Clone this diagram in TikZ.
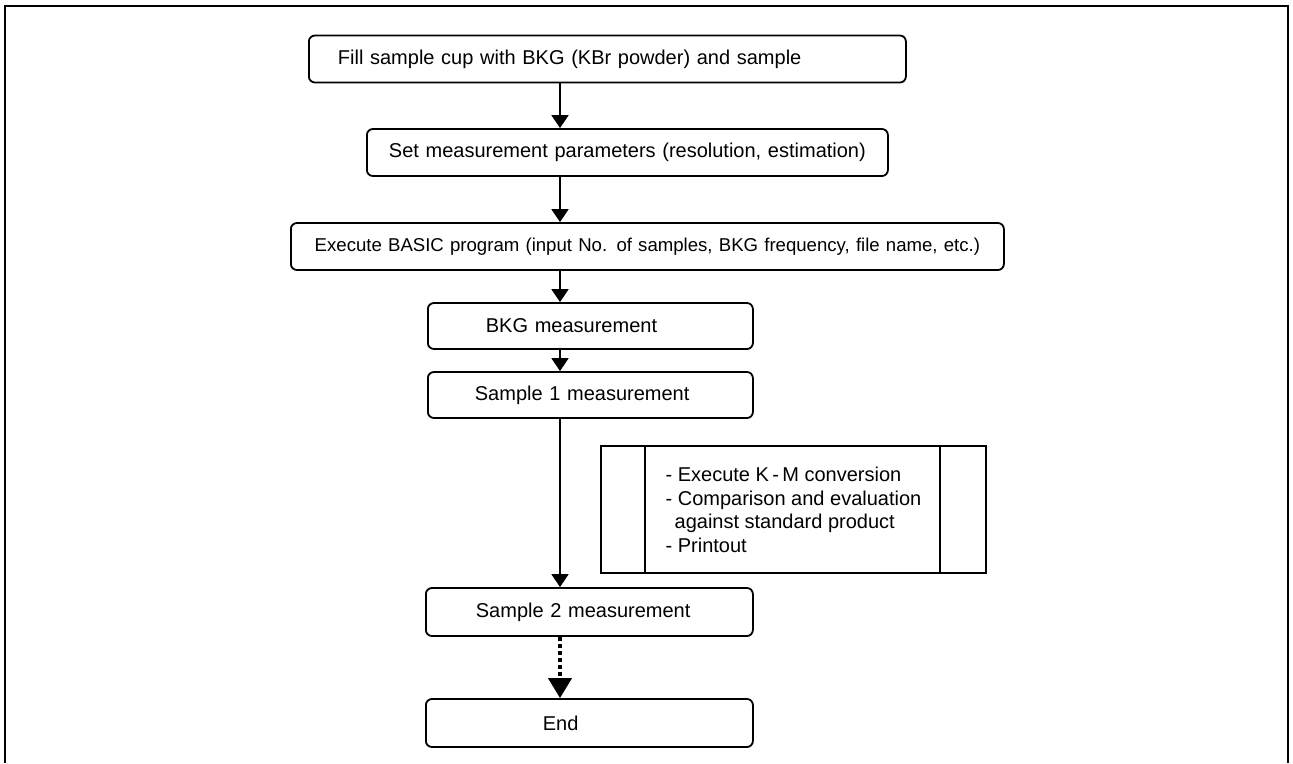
\documentclass[tikz,border=0pt]{standalone}
\usepackage{fontspec}
\setmainfont{Liberation Sans}
\usetikzlibrary{arrows.meta, calc, positioning}

\begin{document}
\begin{tikzpicture}[
  x=1pt, y=-1pt,
  box/.style={draw, line width=1.8pt, rounded corners=6pt, minimum height=47pt,
              anchor=west, align=left, font=\fontsize{20}{24}\selectfont},
  arr/.style={-{Triangle[width=17pt, length=13pt]}, line width=1.8pt},
  dotarr/.style={-{Triangle[width=23pt, length=20pt]}, line width=4pt,
                 dash pattern=on 4pt off 3pt}
]
  \useasboundingbox (0,0) rectangle (1293,763);
  \draw[line width=2pt] (5,763) -- (5,6) -- (1288,6) -- (1288,763);

  \coordinate (spine) at (560,0);

  \node[box, text width=539pt, inner xsep=29pt] (fill) at (308,59)
    {Fill sample cup with BKG (KBr powder) and sample};
  \node[box, align=center, text width=490pt, inner xsep=15.5pt] (param) at (366,152.5)
    {Set measurement parameters (resolution, estimation)};
  \node[box, align=center, text width=683pt, inner xsep=15pt,
        font=\fontsize{18.6}{22}\selectfont] (basic) at (290,246.5)
    {Execute BASIC program (input No. of samples, BKG frequency, file name, etc.)};
  \node[box, text width=209pt, inner xsep=58pt, minimum height=46pt] (bkg) at (427,326)
    {BKG measurement};
  \node[box, text width=231pt, inner xsep=47pt, minimum height=46pt] (s1) at (427,395)
    {Sample 1 measurement};
  \node[box, text width=227pt, inner xsep=50pt, minimum height=48pt] (s2) at (425,612)
    {Sample 2 measurement};
  \node[box, text width=93pt, inner xsep=117pt, minimum height=48pt] (end) at (425,723)
    {End};

  % side process
  \node[draw, line width=2pt, minimum width=385pt, minimum height=127pt,
        anchor=north west, align=left, text depth=0pt,
        font=\fontsize{20}{23.5}\selectfont] (km) at (600,445)
    {- Execute K\,-\,M conversion\\
     - Comparison and evaluation\\
     \hspace*{9pt}against standard product\\
     - Printout};
  \draw[line width=2pt] ([xshift=45pt]km.north west) -- ([xshift=45pt]km.south west);
  \draw[line width=2pt] ([xshift=-47pt]km.north east) -- ([xshift=-47pt]km.south east);

  \draw[arr] (fill.south -| spine) -- (param.north -| spine);
  \draw[arr] (param.south -| spine) -- (basic.north -| spine);
  \draw[arr] (basic.south -| spine) -- (bkg.north -| spine);
  \draw[arr] (bkg.south -| spine) -- (s1.north -| spine);
  \draw[arr] (s1.south -| spine) -- (s2.north -| spine);
  \draw[dotarr] (s2.south -| spine) -- (end.north -| spine);
\end{tikzpicture}
\end{document}
